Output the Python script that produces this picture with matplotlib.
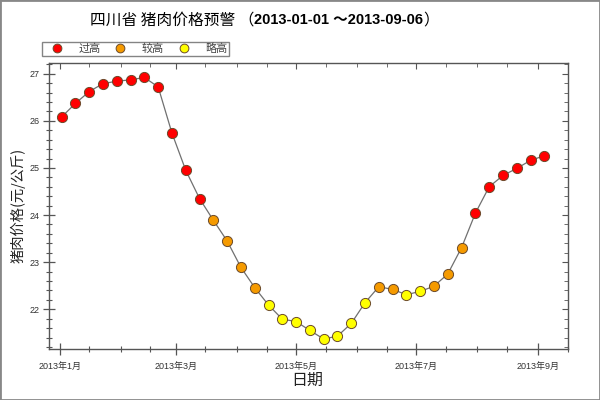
import matplotlib
matplotlib.use("Agg")
import matplotlib.pyplot as plt
import matplotlib.dates as mdates
from matplotlib.lines import Line2D
from matplotlib.patches import Rectangle
from matplotlib.text import Annotation
import pandas as pd

plt.rcParams['font.family'] = ['Liberation Sans', 'Noto Sans CJK SC', 'DejaVu Sans']
CJK = ['Noto Sans CJK SC', 'DejaVu Sans']

# weekly observations, 2013-01-02 .. 2013-09-04
dates = pd.date_range('2013-01-02', periods=36, freq='7D')
prices = [26.08, 26.37, 26.62, 26.79, 26.84, 26.87, 26.92, 26.72, 25.74, 24.95,
          24.35, 23.89, 23.45, 22.89, 22.46, 22.09, 21.79, 21.74, 21.55, 21.37,
          21.43, 21.70, 22.14, 22.48, 22.42, 22.31, 22.38, 22.49, 22.75, 23.31,
          24.04, 24.60, 24.84, 24.99, 25.16, 25.26]
# warning level per point: 2 = 过高, 1 = 较高, 0 = 略高
levels = [2, 2, 2, 2, 2, 2, 2, 2, 2, 2,
          2, 1, 1, 1, 1, 0, 0, 0, 0, 0,
          0, 0, 0, 1, 1, 0, 0, 1, 1, 1,
          2, 2, 2, 2, 2, 2]
level_names = ['略高', '较高', '过高']
level_colors = ['#ffff00', '#f59a00', '#ff0000']

title_main = '四川省 猪肉价格预警 （'
title_dates = '2013-01-01 ～2013-09-06'
tick_dates = ['2013-01-01', '2013-03-01', '2013-05-01', '2013-07-01', '2013-09-01']
tick_labels = ['2013年1月', '2013年3月', '2013年5月', '2013年7月', '2013年9月']

fig = plt.figure(figsize=(6, 4), dpi=100)
fig.patch.set_facecolor('white')
ax = fig.add_axes([49 / 600, 1 - 349 / 400, 519 / 600, 286 / 400])

ax.plot(dates, prices, color='#707070', lw=0.9, zorder=2)
for lv in range(3):
    xs = [d for d, l in zip(dates, levels) if l == lv]
    ys = [p for p, l in zip(prices, levels) if l == lv]
    ax.plot(xs, ys, ls='none', marker='o', ms=7.3, mfc=level_colors[lv],
            mec='#6b4a2a', mew=0.7, zorder=3)

x0 = mdates.date2num(pd.Timestamp('2013-01-01'))
ax.set_xlim(x0 - 5.4, x0 + 251.0)
ax.set_ylim(21.157, 27.227)

ax.set_xticks(pd.to_datetime(tick_dates))
ax.set_xticklabels(tick_labels)
minor = [pd.Timestamp(2013, m, d) for m in range(1, 10) for d in (1, 16)]
minor = [t for t in minor if t.strftime('%Y-%m-%d') not in tick_dates]
ax.set_xticks(minor, minor=True)
ax.set_yticks([22, 23, 24, 25, 26, 27])
ax.yaxis.set_minor_locator(matplotlib.ticker.MultipleLocator(0.2))

for s in ax.spines.values():
    s.set_color('#555555')
    s.set_linewidth(1.0)
ax.tick_params(which='both', direction='inout', colors='#555555',
               labelcolor='#333333', labelsize=6.5, top=False, right=False)
ax.tick_params(which='major', length=8, width=0.9)
ax.tick_params(which='minor', length=4, width=0.8)
ax.tick_params(axis='x', pad=5)
ax.tick_params(axis='y', pad=3)

# inward ticks on top and right
axt = ax.twiny()
axt.set_xlim(ax.get_xlim())
axt.set_xticks(ax.get_xticks())
axt.set_xticks(ax.get_xticks(minor=True), minor=True)
axt.tick_params(which='both', direction='in', colors='#555555', labeltop=False)
axt.tick_params(which='major', length=4)
axt.tick_params(which='minor', length=3)
axr = ax.twinx()
axr.set_ylim(ax.get_ylim())
axr.set_yticks(ax.get_yticks())
axr.yaxis.set_minor_locator(matplotlib.ticker.MultipleLocator(0.2))
axr.tick_params(which='both', direction='in', colors='#555555', labelright=False)
axr.tick_params(which='major', length=4)
axr.tick_params(which='minor', length=3)
for a in (axt, axr):
    for s in a.spines.values():
        s.set_visible(False)

fig.text(18 / 600, 1 - 205 / 400, '猪肉价格(元/公斤)', rotation=90,
         ha='center', va='center', fontsize=10.3, color='#222222', family=CJK)
fig.text(307 / 600, 1 - 380 / 400, '日期', ha='center', va='center',
         fontsize=11.5, color='#222222', family=CJK)

# title: plain chinese, bold dates, closing bracket chained together
t1 = fig.text(90 / 600, 1 - 20 / 400, title_main, ha='left', va='center',
              fontsize=11.3, color='black', family=CJK)
t2 = fig.add_artist(Annotation(
    title_dates, xy=(1.0, 0.5), xycoords=t1, xytext=(0, 0),
    textcoords='offset points', ha='left', va='center', fontsize=10.5,
    fontweight='bold', color='black', family=['Liberation Sans', 'Noto Sans CJK SC']))
fig.add_artist(Annotation(
    '）', xy=(1.0, 0.5), xycoords=t2, xytext=(0, 0),
    textcoords='offset points', ha='left', va='center', fontsize=11.3,
    color='black', family=CJK))

handles = [Line2D([], [], ls='none', marker='o', ms=6.3, mfc=level_colors[lv],
                  mec='#6b4a2a', mew=0.7) for lv in (2, 1, 0)]
leg = fig.legend(handles, [level_names[lv] for lv in (2, 1, 0)],
                 loc='upper left', bbox_to_anchor=(42 / 600, 1 - 42 / 400),
                 borderaxespad=0, ncol=3, frameon=True, fancybox=False,
                 borderpad=0.15, handlelength=2.4, handletextpad=0.7,
                 columnspacing=0.6, prop={'family': CJK, 'size': 8})
leg.get_frame().set_edgecolor('#666666')
leg.get_frame().set_linewidth(1.0)
for t in leg.get_texts():
    t.set_color('#444444')

fig.patches.append(Rectangle((0, 0), 1, 1, transform=fig.transFigure,
                             fill=False, edgecolor='#888888', lw=2))

fig.savefig('out.png', dpi=100)
